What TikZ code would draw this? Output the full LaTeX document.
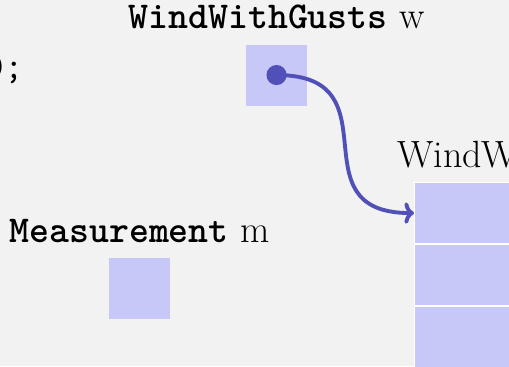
\documentclass[tikz,border=0pt]{standalone}
\usetikzlibrary{positioning,arrows.meta}
\definecolor{bgcol}{RGB}{242,242,242}
\definecolor{cellcol}{RGB}{200,200,248}
\definecolor{linkcol}{RGB}{80,80,184}
\begin{document}
\begin{tikzpicture}[
  font=\fontsize{17.7}{21}\selectfont,
  cell/.style={fill=cellcol, minimum size=1cm, inner sep=0},
  stackcell/.style={cell, draw=white, line width=0.5pt, minimum width=4cm},
  vartext/.style={inner sep=0},
  ptr/.style={circle, fill=linkcol, inner sep=0, minimum size=0.33cm},
  link/.style={-{To[length=4.5pt,width=10pt]}, linkcol, line width=1.8pt}
]
  \fill[bgcol] (0,0) rectangle (8.344,6);
  \useasboundingbox (0,0) rectangle (8.344,6);

  \node[vartext, anchor=base east] (code) at (0.40,4.72) {\texttt{0;}};

  % the pointer variable
  \node[cell] (w) at (4.533,4.77) {};
  \node[vartext, above=0.24cm of w] (wname) {\texttt{\bfseries WindWithGusts} w};
  \node[ptr] (wdot) at (w.center) {};

  % the plain variable
  \node[cell] (m) at (2.287,1.27) {};
  \node[vartext, above=0.24cm of m] (mname) {\texttt{\bfseries Measurement} m};

  % the object on the heap
  \node[stackcell, anchor=north west] (c1) at (6.787,3.016) {};
  \node[stackcell, below=0pt of c1] (c2) {};
  \node[stackcell, below=0pt of c2] (c3) {};
  \node[vartext, anchor=base west] (sname) at (6.508,3.262) {WindW};

  \draw[link] (wdot.center) to[out=0,in=180,looseness=1.6] (c1.west);

\end{tikzpicture}
\end{document}
